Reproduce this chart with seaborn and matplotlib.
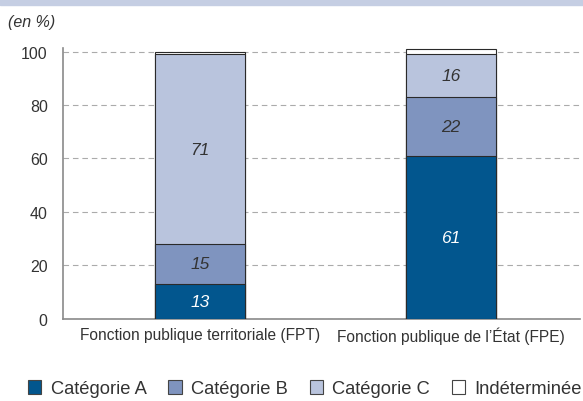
import pandas as pd
import numpy as np
import matplotlib
matplotlib.use("Agg")
import matplotlib.pyplot as plt
import seaborn as sns
from matplotlib.patches import Patch, Rectangle

# --- données ---
groupes = ["Fonction publique territoriale (FPT)", "Fonction publique de l’État (FPE)"]
categories = ["Catégorie A", "Catégorie B", "Catégorie C", "Indéterminée"]
cat_a = [13, 61]
cat_b = [15, 22]
cat_c = [71, 16]
indet = [1, 2]

couleurs = ["#02568e", "#7f94bf", "#b9c4dd", "#ffffff"]
couleurs_txt = ["white", "#333333", "#333333", "#333333"]

sns.set_style("white")
plt.rcParams['font.family'] = ['Liberation Sans', 'DejaVu Sans']

df = pd.DataFrame({"groupe": groupes, "A": cat_a, "B": cat_b, "C": cat_c, "I": indet})
cols = ["A", "B", "C", "I"]
cum = df[cols].cumsum(axis=1)

fig = plt.figure(figsize=(5.83, 4.02), dpi=100)
ax = fig.add_axes([0.108, 0.205, 0.887, 0.674])

# barres empilées : on dessine du total vers le bas
for i in range(len(cols) - 1, -1, -1):
    sns.barplot(x=df["groupe"], y=cum[cols[i]], color=couleurs[i], saturation=1,
                width=0.36, edgecolor="#2a2a2a", linewidth=0.8, ax=ax, zorder=3)

# étiquettes de valeurs
for j in range(len(df)):
    bas = 0
    for i, c in enumerate(cols[:3]):
        v = df[c].iloc[j]
        ax.text(j, bas + v / 2, f"{v}", ha="center", va="center", fontsize=12.5,
                style="italic", color=couleurs_txt[i], zorder=4)
        bas += v

ax.set_xlim(-0.546, 1.514)
ax.set_ylim(0, 101.5)
ax.set_yticks([0, 20, 40, 60, 80, 100])
ax.yaxis.grid(True, linestyle=(0, (5, 3.5)), color="#ababab", linewidth=0.8, zorder=0)
ax.xaxis.grid(False)
ax.set_axisbelow(True)
ax.set_xlabel("")
ax.set_ylabel("")
for s in ["top", "right"]:
    ax.spines[s].set_visible(False)
for s in ["left", "bottom"]:
    ax.spines[s].set_color("#8a8a8a")
    ax.spines[s].set_linewidth(1.2)
ax.tick_params(axis="both", length=0, labelsize=11.5, colors="#333333", pad=11)
ax.tick_params(axis="x", labelsize=11.2, pad=6)

# bandeau du haut
fig.add_artist(Rectangle((0, 0.986), 1, 0.014, transform=fig.transFigure,
                         color="#c5cee3", zorder=0))
fig.text(0.014, 0.945, "(en %)", style="italic", fontsize=11.5, color="#333333",
         ha="left", va="center")

handles = [Patch(facecolor=couleurs[i], edgecolor="#444444", linewidth=0.8)
           for i in range(len(categories))]
fig.legend(handles, categories, loc="center", bbox_to_anchor=(0.523, 0.03), ncol=4,
           frameon=False, fontsize=13.2, handlelength=0.72, handleheight=0.72,
           handletextpad=0.5, columnspacing=1.2, labelcolor="#333333",
           borderaxespad=0, borderpad=0)

fig.savefig("out.png", dpi=100)
